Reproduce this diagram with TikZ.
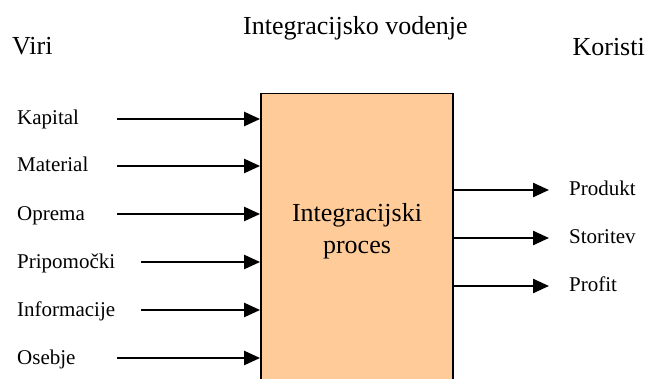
\documentclass[tikz,border=0pt]{standalone}
\usepackage{fontspec}
\setmainfont{Liberation Serif}
\usetikzlibrary{arrows.meta}
\definecolor{procfill}{HTML}{FFCC99}
\begin{document}
\begin{tikzpicture}[x=1pt,y=1pt,
  header/.style={font=\fontsize{26}{31}\selectfont, inner sep=0pt},
  item/.style={font=\fontsize{21}{25}\selectfont, inner sep=0pt},
  arr/.style={line width=2.4pt, -{Triangle[length=16pt,width=14pt]}},
  procbox/.style={draw=black, line width=1.8pt, fill=procfill, minimum width=192pt, minimum height=294.5pt, inner sep=0pt}]
\useasboundingbox (0,0) rectangle (645,378);
\clip (0,0) rectangle (645,378);

% headings
\node[header, anchor=base west] (title) at (243,343) {Integracijsko vodenje};
\node[header, anchor=base west] (viri) at (12,323) {Viri};
\node[header, anchor=base east] (koristi) at (645,322) {Koristi};

% the process block (runs past the lower edge)
\node[procbox] (proc) at (357,137.25) {};
\node[align=center, font=\fontsize{26}{32}\selectfont, inner sep=0pt] (proctext) at (357,147) {Integracijski\\proces};

% inputs
\node[item, anchor=base west] (kapital) at (17,253) {Kapital};
\node[item, anchor=base west] (material) at (17,206) {Material};
\node[item, anchor=base west] (oprema) at (17,158) {Oprema};
\node[item, anchor=base west] (pripomocki) at (17,110) {Pripomočki};
\node[item, anchor=base west] (informacije) at (17,62) {Informacije};
\node[item, anchor=base west] (osebje) at (17,14) {Osebje};

\coordinate (in1) at (117,259);
\coordinate (in2) at (117,212);
\coordinate (in3) at (117,164);
\coordinate (in4) at (141,116);
\coordinate (in5) at (141,68);
\coordinate (in6) at (117,20);
\foreach \i in {1,...,6}{
  \draw[arr] (in\i) -- (proc.west |- in\i);
}

% outputs
\node[item, anchor=base west] (produkt) at (569,182.5) {Produkt};
\node[item, anchor=base west] (storitev) at (569,134.5) {Storitev};
\node[item, anchor=base west] (profit) at (569,86.5) {Profit};

\coordinate (out1) at (549,188);
\coordinate (out2) at (549,140);
\coordinate (out3) at (549,92);
\foreach \i in {1,2,3}{
  \draw[arr] (proc.east |- out\i) -- (out\i);
}
\end{tikzpicture}
\end{document}
